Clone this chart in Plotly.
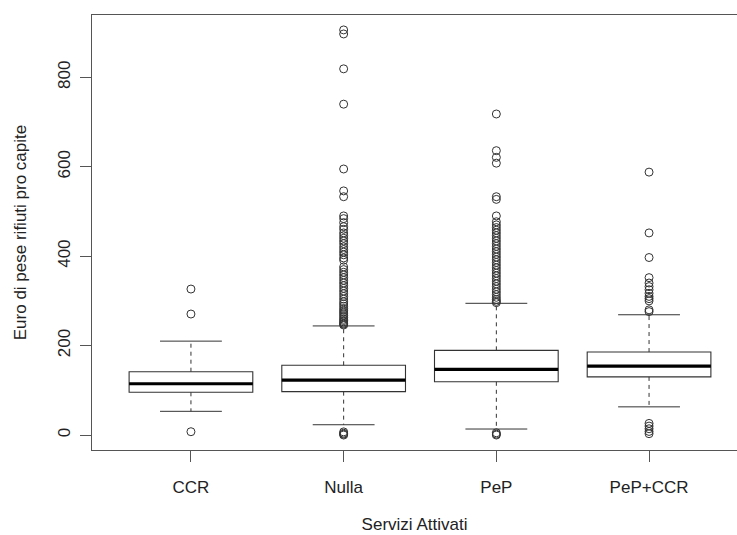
import plotly.graph_objects as go

categories = ["CCR", "Nulla", "PeP", "PeP+CCR"]
q1 = [95.5, 97, 119, 130]
median = [114.7, 123, 147, 154]
q3 = [141.6, 156, 189.4, 185.6]
whisker_low = [53, 23, 13.4, 63]
whisker_high = [210, 244, 294.6, 269]

outliers_ccr = [326.5, 270.6, 7.4]
outliers_nulla = [906, 897, 819, 740, 595, 546, 533, 490, 484, 475, 466, 460, 452, 446,
                  440, 434, 428, 421, 415, 409, 403, 396, 391, 376, 370, 364, 358, 352,
                  346, 340, 334, 328, 322, 316, 310, 304, 298, 293, 288, 283, 279, 275,
                  271, 267, 263, 259, 256, 253, 250, 248, 246,
                  7, 4, 2, 0]
outliers_pep = [718, 636, 621, 608, 533, 527, 490, 477, 470, 464, 458, 452, 446, 440,
                434, 428, 422, 416, 410, 404, 398, 392, 386, 380, 374, 368, 362, 356,
                350, 344, 338, 332, 326, 320, 314, 308, 303, 299, 296,
                5, 2, 0]
outliers_pepccr = [588, 452, 397, 352, 340, 332, 325, 317, 310, 305, 300, 280, 276,
                   26, 20, 14, 8, 3]
outliers = [outliers_ccr, outliers_nulla, outliers_pep, outliers_pepccr]

y_ticks = [0, 200, 400, 600, 800]

BOX_W = 0.81
STAPLE_HALF = BOX_W / 4
INK = "#333333"
FONT = "Liberation Sans, Arial, sans-serif"

xpos = list(range(1, len(categories) + 1))

fig = go.Figure()

# whiskers (dashed)
wx, wy = [], []
for i, x in enumerate(xpos):
    wx += [x, x, None, x, x, None]
    wy += [q3[i], whisker_high[i], None, q1[i], whisker_low[i], None]
fig.add_trace(go.Scatter(x=wx, y=wy, mode="lines",
                         line=dict(color=INK, width=1, dash="4px,4px"),
                         hoverinfo="skip", showlegend=False))

# staples
sx, sy = [], []
for i, x in enumerate(xpos):
    sx += [x - STAPLE_HALF, x + STAPLE_HALF, None, x - STAPLE_HALF, x + STAPLE_HALF, None]
    sy += [whisker_high[i], whisker_high[i], None, whisker_low[i], whisker_low[i], None]
fig.add_trace(go.Scatter(x=sx, y=sy, mode="lines",
                         line=dict(color=INK, width=1),
                         hoverinfo="skip", showlegend=False))

# boxes
fig.add_trace(go.Box(x=xpos, q1=q1, median=median, q3=q3,
                     lowerfence=q1, upperfence=q3,
                     width=BOX_W, fillcolor="white",
                     line=dict(color=INK, width=1.1),
                     boxpoints=False, showlegend=False, hoverinfo="skip"))

# thick medians
mx, my = [], []
for i, x in enumerate(xpos):
    mx += [x - BOX_W / 2, x + BOX_W / 2, None]
    my += [median[i], median[i], None]
fig.add_trace(go.Scatter(x=mx, y=my, mode="lines",
                         line=dict(color="black", width=3.2),
                         hoverinfo="skip", showlegend=False))

# outliers
ox, oy = [], []
for i, x in enumerate(xpos):
    ox += [x] * len(outliers[i])
    oy += outliers[i]
fig.add_trace(go.Scatter(x=ox, y=oy, mode="markers",
                         marker=dict(symbol="circle-open", size=8,
                                     color=INK, line=dict(width=1, color=INK)),
                         hoverinfo="skip", showlegend=False))

fig.update_layout(
    width=737, height=535,
    margin=dict(l=92, r=0, t=15, b=85),
    paper_bgcolor="white", plot_bgcolor="white",
    font=dict(family=FONT, size=17, color="#222222"),
    xaxis=dict(range=[0.352, 4.576], tickmode="array", tickvals=xpos,
               ticktext=categories, showgrid=False, zeroline=False,
               showline=True, mirror=True, linecolor="#555555", linewidth=1.3,
               ticks="outside", ticklen=11, tickcolor="#555555",
               ticklabelstandoff=10,
               title=dict(text="Servizi Attivati", standoff=22,
                          font=dict(size=17, family=FONT))),
    yaxis=dict(range=[-33.5, 939.4], tickmode="array", tickvals=y_ticks,
               ticktext=[str(v) for v in y_ticks], tickangle=-90,
               showgrid=False, zeroline=False,
               showline=True, mirror=False, linecolor="#555555", linewidth=1.3,
               ticks="outside", ticklen=11, tickcolor="#555555",
               ticklabelstandoff=3,
               title=dict(text="Euro di pese rifiuti pro capite", standoff=24,
                          font=dict(size=17, family=FONT))),
)

fig.write_html("out.html")
